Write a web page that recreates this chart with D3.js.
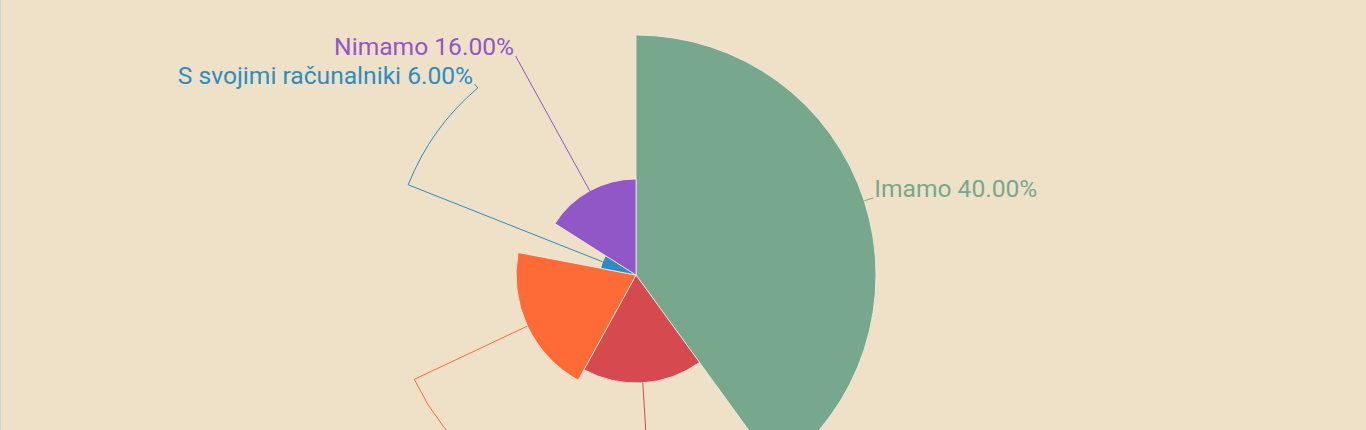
<!DOCTYPE html>
<html>
<head>
<meta charset="utf-8">
<script src="https://cdn.jsdelivr.net/npm/d3@7"></script>
<style>
  html, body { margin: 0; padding: 0; background: #efe1c7; overflow: hidden; }
  svg { display: block; }
</style>
</head>
<body>
<svg id="chart" width="1366" height="430"></svg>
<script>
// ---- data ----
const categories = ["Imamo", "Deloma", "Ne vem", "S svojimi računalniki", "Nimamo"];
const values = [40, 18, 20, 6, 16];
const colors = ["#77a88d", "#d5494f", "#ff6b36", "#2d8dc0", "#9157c7"];

// ---- layout ----
const W = 1366, H = 430;
const cx = 636, cy = 275;
const maxR = 240;
const lineR = 245, labelR = 250;
// label angle shift (degrees) used to avoid overlaps
const labelShift = [0, 0, -26, 28.2, 0];

const svg = d3.select("#chart");
svg.append("rect").attr("width", W).attr("height", H).attr("fill", "#efe1c7");
svg.append("rect").attr("x", 0).attr("y", 0).attr("width", 1).attr("height", H).attr("fill", "#cbd6d8");

const total = d3.sum(values);
const rScale = d3.scaleLinear().domain([0, d3.max(values)]).range([0, maxR]);

const pie = d3.pie().sort(null).value(d => d.v).startAngle(0).endAngle(2 * Math.PI);
const rows = categories.map((c, i) => ({ c, v: values[i], col: colors[i], shift: labelShift[i] }));
const arcs = pie(rows);

const g = svg.append("g").attr("transform", `translate(${cx},${cy})`);
const arcGen = d3.arc().innerRadius(0).outerRadius(d => rScale(d.data.v));

g.selectAll("path.slice").data(arcs).join("path")
  .attr("class", "slice")
  .attr("d", arcGen)
  .attr("fill", d => d.data.col)
  .attr("stroke", "#f4ede2")
  .attr("stroke-width", 0.8);

const pt = (r, a) => [r * Math.sin(a), -r * Math.cos(a)];

arcs.forEach(d => {
  const mid = (d.startAngle + d.endAngle) / 2;
  const la = mid + d.data.shift * Math.PI / 180;
  const r0 = rScale(d.data.v);
  const p0 = pt(r0, mid);
  const p1 = pt(lineR, mid);
  const p2 = pt(lineR, la);
  const p3 = pt(labelR, la);
  const sweep = la > mid ? 1 : 0;
  let path = `M${p0[0]},${p0[1]}L${p1[0]},${p1[1]}`;
  if (Math.abs(la - mid) > 1e-6) path += `A${lineR},${lineR} 0 0 ${sweep} ${p2[0]},${p2[1]}`;
  path += `L${p3[0]},${p3[1]}`;
  g.append("path").attr("d", path).attr("fill", "none")
    .attr("stroke", d.data.col).attr("stroke-width", 1);

  // labels that fall below the visible area are clipped away in the reference
  if (cy + p3[1] - 20 > H) return;
  const right = Math.sin(la) >= 0;
  const pct = (d.data.v / total * 100).toFixed(2) + "%";
  g.append("text")
    .attr("x", p3[0] + (right ? 0.5 : -1.5))
    .attr("y", p3[1] - 0.5)
    .attr("text-anchor", right ? "start" : "end")
    .attr("font-family", "Roboto, sans-serif")
    .attr("font-size", 24.6)
    .attr("fill", d.data.col)
    .text(`${d.data.c} ${pct}`);
});
</script>
</body>
</html>
